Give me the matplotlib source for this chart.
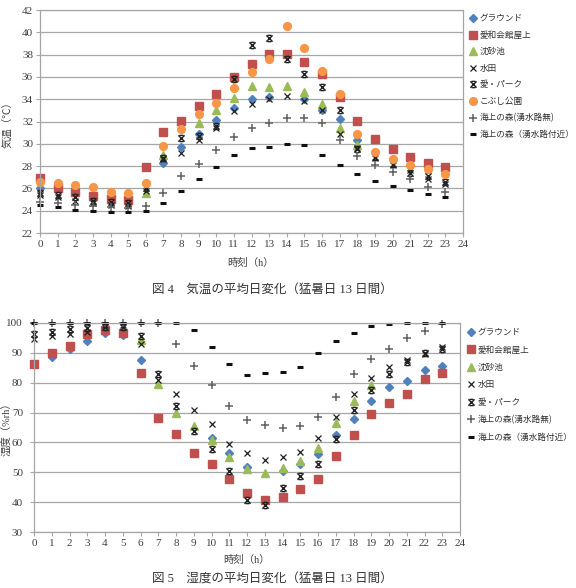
import numpy as np
import matplotlib
matplotlib.use('Agg')
import matplotlib.pyplot as plt
from matplotlib.path import Path

plt.rcParams['font.family'] = ['Liberation Serif', 'Noto Sans CJK JP']

nan = np.nan
hours = list(range(24))

# 気温 (図4)
t_ground = [26.0, nan, nan, nan, nan, nan, nan, 28.3, 29.75, 30.9, 32.1, 33.2,
            34.0, 34.2, nan, 34.05, 33.0, 32.2, 30.3, nan, nan, nan, nan, nan]
t_aiwa = [26.9, 26.0, 25.7, 25.35, 25.05, 25.0, 27.9, 31.1, 32.05, 33.35, 34.45, 36.0,
          37.15, 38.05, 38.05, 37.3, 36.3, 34.2, 32.05, 30.4, 29.5, 28.8, 28.25, 27.9]
t_chinsa = [nan, nan, nan, nan, nan, nan, 25.6, 29.0, nan, 31.85, 33.0, 34.1,
            35.2, 35.05, 35.2, 34.65, 33.6, 31.4, 29.9, nan, nan, nan, nan, nan]
t_suiden = [25.4, 25.2, 24.9, 24.7, 24.5, 24.4, 25.8, 28.6, 29.2, 30.3, 31.4, 32.9,
            33.6, 34.0, 34.3, 33.8, 33.0, 30.9, 29.6, 28.7, 28.1, 27.65, 26.8, 26.4]
t_aipark = [25.6, 25.4, 25.2, 24.9, 24.8, 24.65, 26.0, 28.7, 30.55, 30.7, 31.6, 35.8,
            38.9, 39.5, 37.6, 36.3, 35.1, 33.0, 29.5, 28.8, 28.2, 27.4, 27.1, 26.6]
t_kobushi = [26.6, 26.5, 26.3, 26.1, 25.7, 25.6, 26.5, 29.8, 31.3, 32.65, 33.7, 35.0,
             36.4, 37.6, 40.6, 38.6, 36.5, 34.5, 30.85, 29.3, 28.6, 28.1, 27.7, 27.3]
t_kaijo_a = [24.8, 24.7, 24.5, 24.4, 24.3, 24.2, 24.4, 25.6, 27.1, 28.2, 29.4, 30.6,
             31.4, 31.85, 32.3, 32.3, 31.85, 30.3, 28.9, 28.1, 27.5, 26.8, 26.15, 25.7]
t_kaijo_b = [24.5, 24.3, 24.1, 24.0, 23.9, 23.85, 24.0, 24.7, 25.8, 26.8, 27.95, 29.0,
             29.6, 29.75, 30.0, 29.9, 29.0, 28.1, 27.3, 26.7, 26.2, 25.9, 25.5, 25.2]

# 湿度 (図5)
h_ground = [nan, 88.7, 91.2, 94.1, 96.5, 96.0, 87.7, nan, nan, nan, 61.5, 56.6,
            51.9, nan, 50.5, 52.8, 56.2, 62.5, 68.0, 74.0, 78.4, 80.7, 84.2, 85.5]
h_aiwa = [86.2, 90.0, 92.4, 96.2, 97.5, 96.8, 83.4, 68.1, 62.7, 56.6, 52.7, 47.9,
          43.0, 40.8, 41.6, 44.4, 47.7, 55.3, 62.4, 69.4, 73.1, 76.1, 81.1, 83.3]
h_chinsa = [nan, nan, nan, nan, nan, nan, 94.4, 79.7, 70.0, 65.6, 60.8, 55.0,
            51.0, 49.9, 51.4, 53.8, 58.0, 66.4, 74.0, 79.2, nan, nan, nan, nan]
h_suiden = [94.5, 95.5, 96.4, 97.0, 99.3, 99.3, 93.0, 80.9, 76.1, 70.8, 66.2, 59.5,
            56.4, 54.2, 55.0, 56.9, 61.4, 68.6, 76.2, 81.6, 85.3, 87.5, 89.5, 91.8]
h_aipark = [96.2, 97.0, 98.0, 98.3, 98.6, 98.6, 95.7, 82.9, 72.2, 63.9, 57.9, 50.4,
            40.8, 39.2, 44.7, 48.8, 52.8, 61.1, 70.8, 77.7, 82.9, 86.9, 89.8, 91.4]
h_kaijo_a = [100, 100, 100, 100, 100, 100, 100, 100, 92.9, 85.6, 79.4, 72.2,
             67.5, 65.7, 64.9, 65.5, 68.6, 75.3, 82.8, 87.9, 91.4, 95.1, 97.3, 99.6]
h_kaijo_b = [100, 100, 100, 100, 100, 100, 100, 100, 100, 97.6, 92.0, 86.2,
             82.5, 83.1, 83.6, 85.3, 89.8, 93.9, 96.7, 98.9, 99.8, 100, 100, 100]

# 愛・パーク marker: x with bars top and bottom
star = Path([(-1, -1), (1, 1), (-1, 1), (1, -1), (-0.6, 1), (0.6, 1), (-0.6, -1), (0.6, -1)],
            [Path.MOVETO, Path.LINETO] * 4)

STYLES = {
    'グラウンド': dict(marker='D', ms=4.2, color='#4F81BD', mec='#4F81BD'),
    '愛和会館屋上': dict(marker='s', ms=5.4, color='#C0504D', mec='#C0504D'),
    '沈砂池': dict(marker='^', ms=5.2, color='#9BBB59', mec='#9BBB59'),
    '水田': dict(marker='x', ms=4.5, color='#202020', mew=0.9),
    '愛・パーク': dict(marker=star, ms=4.5, color='#202020', mfc='none', mew=1.0),
    'こぶし公園': dict(marker='o', ms=5.6, color='#F79646', mec='#F79646'),
    '海上の森(湧水路無)': dict(marker='+', ms=5.5, color='#606060', mew=1.1),
    '海上の森（湧水路付近）': dict(marker='_', ms=4.0, color='#101010', mew=2.2),
}

GRAY = '#a6a6a6'
TXT = '#404040'


def draw(ax, series, ylim, ystep, legend_xy, spacing):
    for name, vals in series:
        ax.plot(hours, vals, linestyle='none', clip_on=False, label=name, **STYLES[name])
    ax.set_xlim(0, 24)
    ax.set_ylim(*ylim)
    ax.set_xticks(range(0, 25))
    ax.set_yticks(np.arange(ylim[0], ylim[1] + 0.1, ystep))
    ax.yaxis.grid(True, color=GRAY, lw=0.9)
    ax.set_axisbelow(True)
    for s in ax.spines.values():
        s.set_color(GRAY)
        s.set_linewidth(0.9)
    ax.tick_params(direction='out', length=3, width=0.8, color=GRAY,
                   labelsize=8, labelcolor=TXT, pad=2)
    leg = ax.figure.legend(loc='upper left', bbox_to_anchor=legend_xy, frameon=False,
                           prop={'family': 'Noto Sans CJK JP', 'size': 6.2},
                           handlelength=0.8, handletextpad=0.35, labelspacing=spacing,
                           borderpad=0, borderaxespad=0, numpoints=1,
                           handles=ax.get_legend_handles_labels()[0])
    for t in leg.get_texts():
        t.set_color('#303030')


fig = plt.figure(figsize=(5.76, 5.88), dpi=100)
W, H = 576, 588

ax1 = fig.add_axes([40 / W, 1 - 233 / H, 423 / W, 223 / H])
draw(ax1, [('グラウンド', t_ground), ('愛和会館屋上', t_aiwa), ('沈砂池', t_chinsa),
           ('水田', t_suiden), ('愛・パーク', t_aipark), ('こぶし公園', t_kobushi),
           ('海上の森(湧水路無)', t_kaijo_a), ('海上の森（湧水路付近）', t_kaijo_b)],
     (22, 42), 2, (470 / W, 1 - 14 / H), 0.88)

ax2 = fig.add_axes([34 / W, 1 - 532 / H, 426 / W, 209 / H])
draw(ax2, [('グラウンド', h_ground), ('愛和会館屋上', h_aiwa), ('沈砂池', h_chinsa),
           ('水田', h_suiden), ('愛・パーク', h_aipark),
           ('海上の森(湧水路無)', h_kaijo_a), ('海上の森（湧水路付近）', h_kaijo_b)],
     (30, 100), 10, (468 / W, 1 - 328 / H), 0.98)
ax2.tick_params(axis='y', pad=5)

fig.text(8 / W, 1 - 122 / H, '気温（℃）', rotation=90, ha='center', va='center',
         fontsize=7.5, color=TXT)
fig.text(251 / W, 1 - 263 / H, '時刻（h）', ha='center', va='center', fontsize=7.5, color=TXT)
fig.text(272 / W, 1 - 290 / H, '図 4　気温の平均日変化（猛暑日 13 日間）', ha='center',
         va='center', fontsize=9, color='#333333')

fig.text(6 / W, 1 - 427 / H, '湿度（%rh）', rotation=90, ha='center', va='center',
         fontsize=7.5, color=TXT)
fig.text(247 / W, 1 - 560 / H, '時刻（h）', ha='center', va='center', fontsize=7.5, color=TXT)
fig.text(272 / W, 1 - 580 / H, '図 5　湿度の平均日変化（猛暑日 13 日間）', ha='center',
         va='center', fontsize=9, color='#333333')

fig.savefig('out.png', dpi=100)
